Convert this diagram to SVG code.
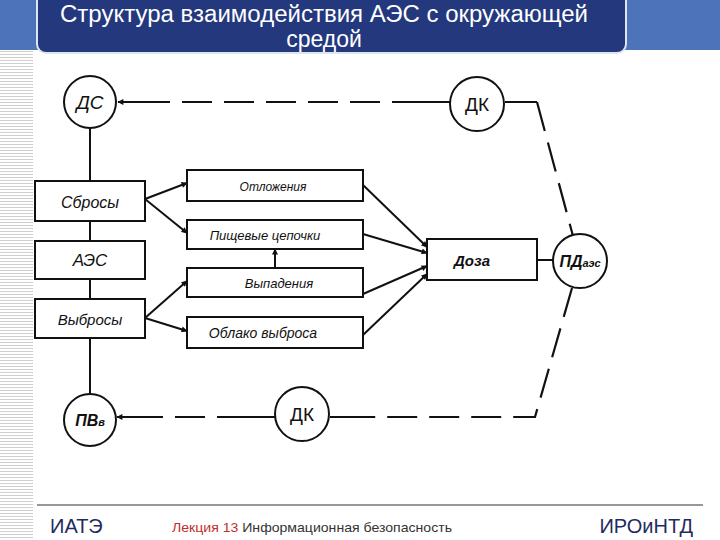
<svg xmlns="http://www.w3.org/2000/svg" width="720" height="540" viewBox="0 0 720 540">
<style>
.box{fill:#fff;stroke:#111;stroke-width:2}
.circ{fill:#fff;stroke:#111;stroke-width:2}
.ln{stroke:#111;stroke-width:2;fill:none}
.dash{stroke:#111;stroke-width:2.2;fill:none;stroke-dasharray:30 12}
.hw{font-family:"Liberation Sans",Arial,sans-serif;font-style:italic;fill:#111;text-anchor:middle}
.up{font-family:"Liberation Sans",Arial,sans-serif;fill:#111;text-anchor:middle}
.title{font-family:"Liberation Sans",Arial,sans-serif;fill:#fff;font-size:23px;text-anchor:middle}
</style>
<defs>
<marker id="ar" viewBox="0 0 10 10" refX="9" refY="5" markerWidth="7" markerHeight="6" orient="auto" markerUnits="userSpaceOnUse">
<path d="M0,0 L10,5 L0,10 z" fill="#111"/>
</marker>
<pattern id="stripes" width="33" height="3" patternUnits="userSpaceOnUse">
<rect width="33" height="3" fill="#fff"/>
<rect y="0" width="33" height="1" fill="#cfcfcf"/>
</pattern>
</defs>
<rect width="720" height="540" fill="#fff"/>
<rect x="0" y="0" width="720" height="50" fill="#4d74bb"/>
<rect x="0" y="50" width="33" height="490" fill="url(#stripes)"/>
<g id="title">
<rect x="37" y="-10" width="589" height="63" rx="9" fill="#24387d" stroke="#dfe5f0" stroke-width="2"/>
<text class="title" x="324" y="22" textLength="528" lengthAdjust="spacingAndGlyphs">Структура взаимодействия АЭС с окружающей</text>
<text class="title" x="324" y="47">средой</text>
</g>
<g id="connectors">
<line class="ln" x1="90" y1="128" x2="90" y2="181"/>
<line class="ln" x1="90" y1="221" x2="90" y2="241"/>
<line class="ln" x1="90" y1="279" x2="90" y2="299"/>
<line class="ln" x1="90" y1="338" x2="90" y2="394"/>
<line class="ln" x1="145" y1="199" x2="187" y2="183" marker-end="url(#ar)"/>
<line class="ln" x1="145" y1="199" x2="187" y2="233" marker-end="url(#ar)"/>
<line class="ln" x1="145" y1="318" x2="187" y2="281" marker-end="url(#ar)"/>
<line class="ln" x1="145" y1="318" x2="187" y2="331" marker-end="url(#ar)"/>
<line class="ln" x1="275" y1="268" x2="275" y2="249" marker-end="url(#ar)"/>
<line class="ln" x1="363" y1="185" x2="427" y2="247" marker-end="url(#ar)"/>
<line class="ln" x1="363" y1="234" x2="427" y2="253" marker-end="url(#ar)"/>
<line class="ln" x1="363" y1="294" x2="427" y2="266" marker-end="url(#ar)"/>
<line class="ln" x1="363" y1="335" x2="427" y2="274" marker-end="url(#ar)"/>
<line class="ln" x1="537" y1="260" x2="553" y2="260"/>
<line class="ln" x1="450" y1="102" x2="422" y2="102"/>
<line class="dash" x1="422" y1="102" x2="143" y2="102"/>
<line class="ln" x1="143" y1="102" x2="118" y2="102" marker-end="url(#ar)"/>
<polyline class="ln" points="505,102 537,102"/>
<line class="dash" x1="537" y1="102" x2="573" y2="236"/>
<polyline class="dash" points="572,288 535,417 363,417"/>
<line class="ln" x1="363" y1="417" x2="330" y2="417"/>
<line class="ln" x1="275" y1="417" x2="247" y2="417"/>
<line class="dash" x1="247" y1="417" x2="143" y2="417"/>
<line class="ln" x1="143" y1="417" x2="117" y2="417" marker-end="url(#ar)"/>
</g>
<g id="n-ds"><circle class="circ" cx="90" cy="102" r="26"/><text class="hw" x="90" y="109" font-size="19">ДС</text></g>
<g id="n-dk1"><circle class="circ" cx="477" cy="104" r="27"/><text class="up" x="477" y="111" font-size="19">ДК</text></g>
<g id="n-dk2"><circle class="circ" cx="302" cy="414" r="27"/><text class="up" x="302" y="421" font-size="19">ДК</text></g>
<g id="n-pve"><circle class="circ" cx="90" cy="420" r="26"/><text class="hw" x="90" y="426" font-size="16" font-weight="bold">ПВ<tspan font-size="11">в</tspan></text></g>
<g id="n-pdaes"><circle class="circ" cx="580" cy="261" r="27"/><text class="hw" x="580" y="267" font-size="16" font-weight="bold">ПД<tspan font-size="11">аэс</tspan></text></g>
<g id="n-sbrosy"><rect class="box" x="35" y="181" width="110" height="40"/><text class="hw" x="90" y="208" font-size="16">Сбросы</text></g>
<g id="n-aes"><rect class="box" x="35" y="241" width="110" height="38"/><text class="hw" x="90" y="266" font-size="17">АЭС</text></g>
<g id="n-vybrosy"><rect class="box" x="35" y="299" width="110" height="39"/><text class="hw" x="90" y="325" font-size="15">Выбросы</text></g>
<g id="n-otl"><rect class="box" x="187" y="170" width="176" height="31"/><text class="hw" x="273" y="191" font-size="12">Отложения</text></g>
<g id="n-pish"><rect class="box" x="187" y="220" width="176" height="29"/><text class="hw" x="265" y="240" font-size="13">Пищевые  цепочки</text></g>
<g id="n-vyp"><rect class="box" x="187" y="268" width="176" height="29"/><text class="hw" x="279" y="288" font-size="13">Выпадения</text></g>
<g id="n-obl"><rect class="box" x="187" y="317" width="176" height="31"/><text class="hw" x="263" y="338" font-size="14">Облако  выброса</text></g>
<g id="n-doza"><rect class="box" x="427" y="239" width="110" height="41"/><text class="hw" x="472" y="266" font-size="15" font-weight="bold">Доза</text></g>
<g id="footer">
<line x1="37" y1="505" x2="703" y2="505" stroke="#333" stroke-width="1.2"/>
<text x="50" y="533" font-family="Liberation Sans,Arial,sans-serif" font-size="20" fill="#1f2b5e">ИАТЭ</text>
<text x="172" y="532" font-family="Liberation Sans,Arial,sans-serif" font-size="13.5" fill="#333" textLength="280" lengthAdjust="spacingAndGlyphs"><tspan fill="#c0302a">Лекция  13</tspan> Информационная безопасность</text>
<text x="693" y="533" font-family="Liberation Sans,Arial,sans-serif" font-size="20" fill="#1f2b5e" text-anchor="end">ИРОиНТД</text>
</g>
</svg>
